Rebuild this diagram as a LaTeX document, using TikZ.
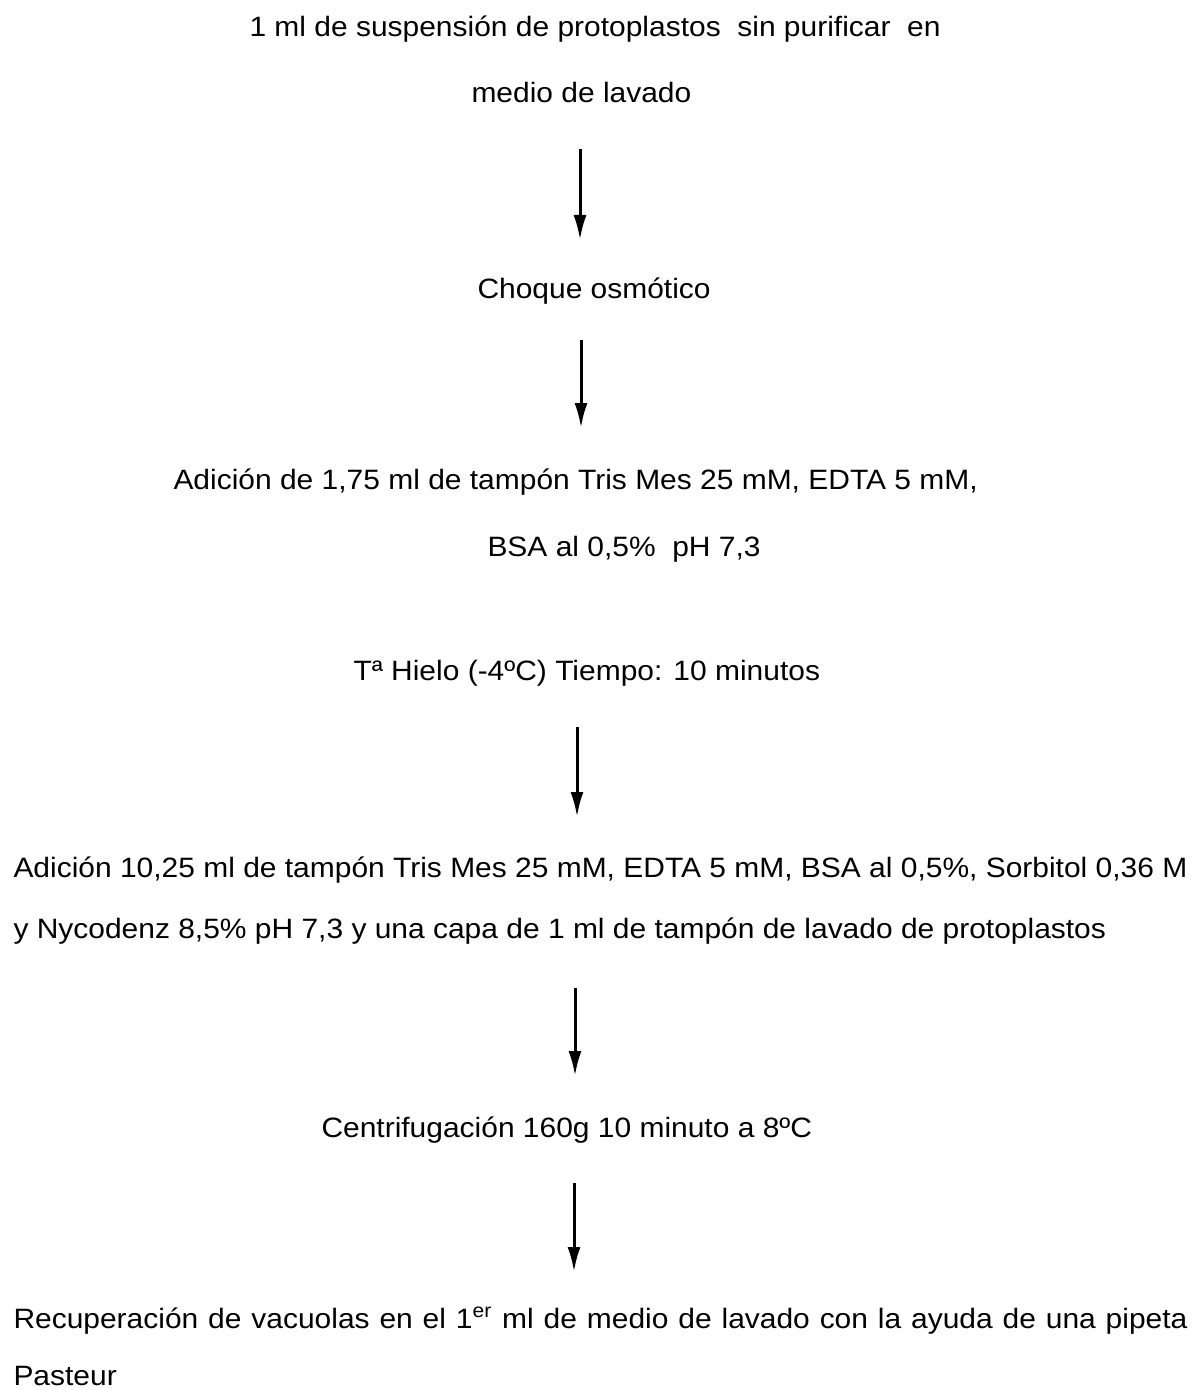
\documentclass[tikz,border=0pt]{standalone}
\usepackage{fontspec}
\setmainfont[FakeStretch=1.07]{Liberation Sans}
\usetikzlibrary{
	positioning
	,arrows.meta
}
\tikzset{default node/.style={
	inner sep=0mm,
	anchor=base west,
	font=\fontsize{14}{16}\selectfont,
}}
\tikzset{
	>={Latex[length=12.5pt,width=6.5pt]}
	,every node/.style={default node}
}

\begin{document}
\begin{tikzpicture}[x=.5pt, y=-.5pt, line width=1.5pt]
\useasboundingbox (0,0) rectangle (1196,1390);

\node(1) at(248,37){1 ml de suspensión de protoplastos\ \ sin purificar\ \ en};
\node(2) at(470,103){medio de lavado};
\node(3) at(476,299){Choque osmótico};
\node(4) at(172,489){Adición de 1,75 ml de tampón Tris Mes 25 mM, EDTA 5 mM,};
\node(5) at(486,556){BSA al 0,5\%\ \ pH 7,3};
\node(6) at(352,680){Tª Hielo (-4ºC) Tiempo: 10 minutos};
\node(7) at(12,877){Adición 10,25 ml de tampón Tris Mes 25 mM, EDTA 5 mM, BSA al 0,5\%, Sorbitol 0,36 M};
\node(8) at(12,938){y Nycodenz 8,5\% pH 7,3 y una capa de 1 ml de tampón de lavado de protoplastos};
\node(9) at(320,1137){Centrifugación 160g 10 minuto a 8ºC};
\node(10) at(12,1328){\makebox[587pt][s]{Recuperación de vacuolas en el 1\textsuperscript{er} ml de medio de lavado con la ayuda de una pipeta}};
\node(11) at(12,1385){Pasteur};

\coordinate(a1) at(580,149);
\coordinate(b1) at(580,240);
\coordinate(a2) at(581,340);
\coordinate(b2) at(581,428);
\coordinate(a3) at(577,727);
\coordinate(b3) at(577,817);
\coordinate(a4) at(575,988);
\coordinate(b4) at(575,1076);
\coordinate(a5) at(574,1183);
\coordinate(b5) at(574,1272);

\foreach \x/\y in {%
a1/b1, a2/b2, a3/b3, a4/b4, a5/b5%
}{
	\draw[->] (\x) -- (\y);
}
\end{tikzpicture}
\end{document}
